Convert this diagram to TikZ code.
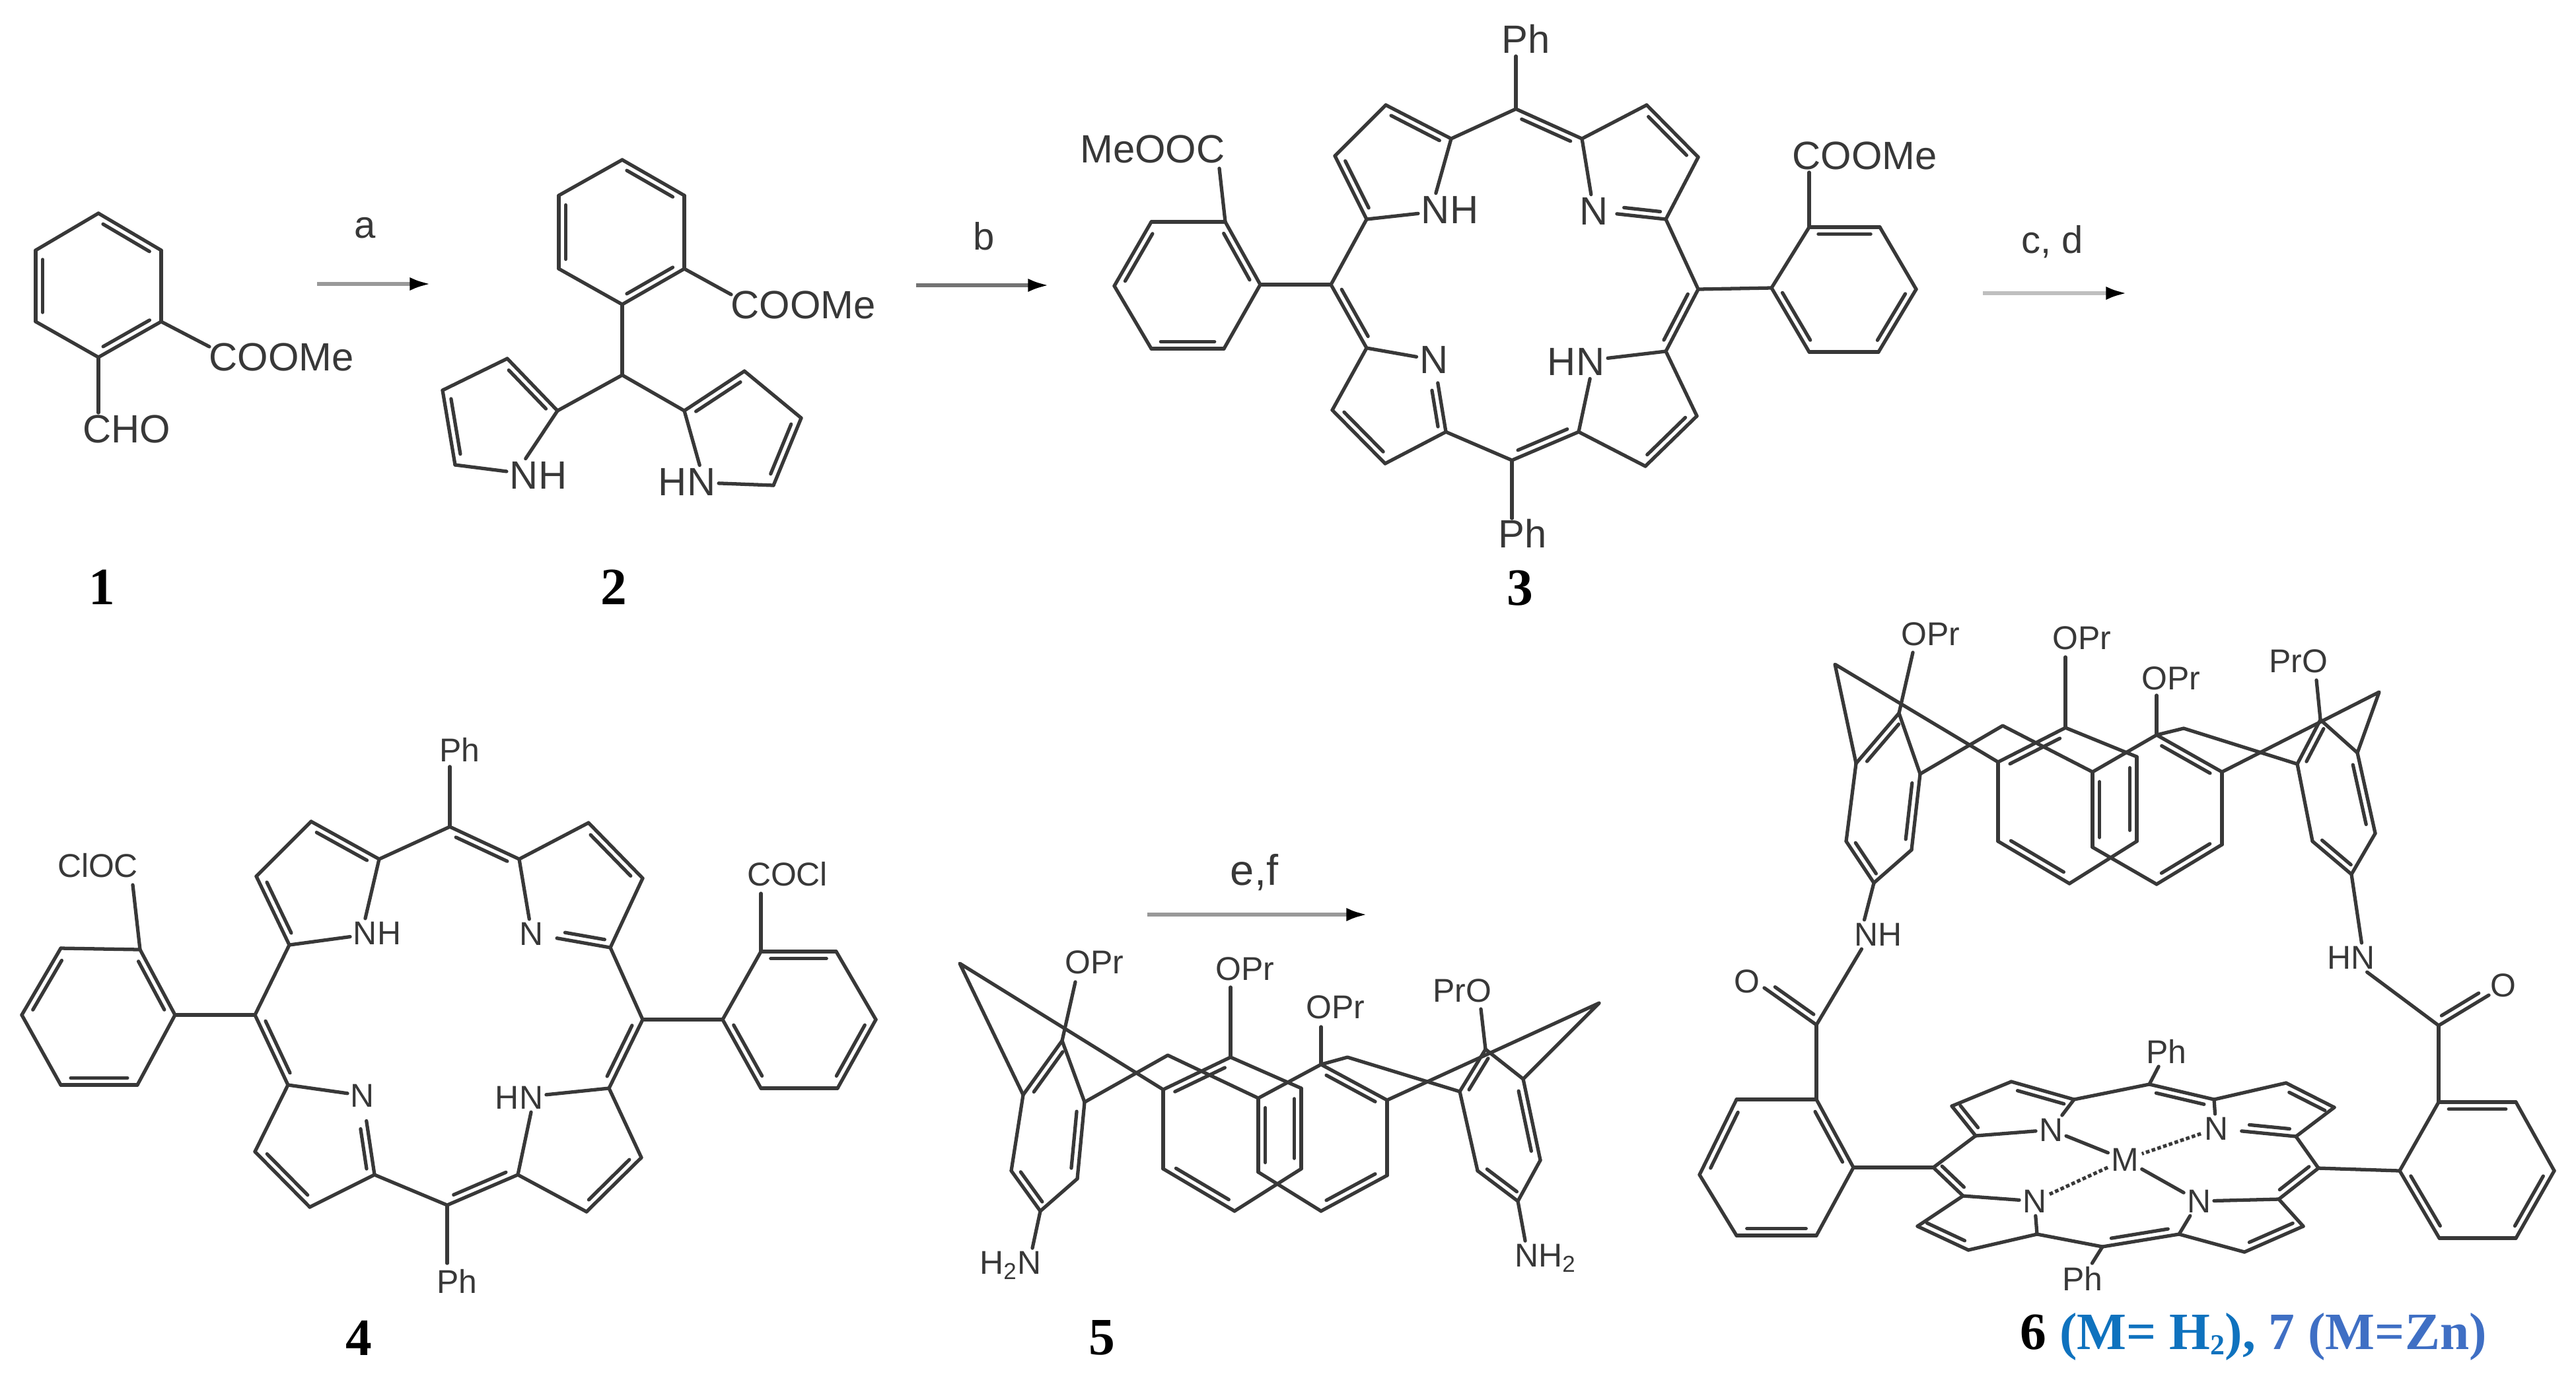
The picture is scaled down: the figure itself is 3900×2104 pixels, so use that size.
\documentclass[tikz,border=0pt]{standalone}
\usepackage{fontspec}
\setmainfont{Liberation Sans}
\newfontfamily\numfont{Liberation Serif}
\usetikzlibrary{calc,arrows.meta}
\definecolor{bondgray}{HTML}{383838}
\definecolor{capblue}{HTML}{0F72BE}
\definecolor{capindigo}{HTML}{3F6FC4}
\tikzset{
	bond/.style={line width=1.5pt, draw=bondgray, line cap=round, line join=round},
	atomL/.style={inner sep=1.2pt, text=bondgray, font=\fontsize{17}{17}\selectfont},
	atomS/.style={inner sep=1.2pt, text=bondgray, font=\fontsize{14.2}{14.2}\selectfont},
	steplabel/.style={inner sep=0pt, anchor=base, text=bondgray, font=\fontsize{16.5}{16.5}\selectfont},
	cmpd/.style={inner sep=0pt, font=\numfont\bfseries\fontsize{22.6}{22.6}\selectfont},
	rxn/.style={line width=1.6pt, draw=black!40, -{Latex[color=black,length=9pt,width=5.8pt]}}
}
\def\dbl#1#2{\draw[bond] (#1) -- (#2); \draw[bond] ($(#1)!.13!(#2)!3pt!90:(#2)$) -- ($(#2)!.13!(#1)!3pt!-90:(#1)$);}
\def\benz#1#2#3#4#5#6{\dbl{#1}{#2} \draw[bond] (#2) -- (#3); \dbl{#3}{#4} \draw[bond] (#4) -- (#5); \dbl{#5}{#6} \draw[bond] (#6) -- (#1);}
\def\porphyrinbonds#1{
	\draw[bond] (#1T) -- (#1a); \dbl{#1a}{#1b} \draw[bond] (#1b) -- (#1c); \dbl{#1c}{#1d} \draw[bond] (#1d) -- (#1L);
	\dbl{#1e}{#1T} \draw[bond] (#1e) -- (#1f); \dbl{#1g}{#1f} \draw[bond] (#1g) -- (#1h); \draw[bond] (#1h) -- (#1R);
	\dbl{#1L}{#1i} \draw[bond] (#1i) -- (#1j); \dbl{#1j}{#1k} \draw[bond] (#1k) -- (#1l); \draw[bond] (#1l) -- (#1B);
	\dbl{#1B}{#1m} \draw[bond] (#1m) -- (#1n); \dbl{#1n}{#1o} \draw[bond] (#1o) -- (#1p); \dbl{#1p}{#1R}
	\draw[bond] (#1d) -- (#1nh); \draw[bond] (#1a) -- ($(#1nh.north west)!.28!(#1nh.north east)$);
	\draw[bond] (#1e) -- (#1nr); \draw[bond] (#1i) -- (#1nl);
	\draw[bond] (#1p) -- (#1hn); \draw[bond] (#1m) -- ($(#1hn.south west)!.72!(#1hn.south east)$);
	\dbl{$(#1nr)!.32!(#1h)$}{#1h}
}
\def\calixbonds#1{
	\benz{#1ua}{#1ub}{#1uc}{#1ud}{#1ue}{#1uf}
	\benz{#1sT}{#1sA}{#1sB}{#1sC}{#1sD}{#1sE}
	\benz{#1tA}{#1tB}{#1tC}{#1tD}{#1tE}{#1tT}
	\benz{#1vT}{#1vA}{#1vB}{#1vC}{#1vD}{#1vE}
	\draw[bond] (#1ub) -- (#1apL) -- (#1sA);
	\draw[bond] (#1uf) -- (#1brL) -- (#1tA);
	\draw[bond] (#1tT) -- (#1brR) -- (#1vA);
	\draw[bond] (#1tE) -- (#1apR) -- (#1vE);
	\draw[bond] (#1ua) -- (#1eA); \draw[bond] (#1sT) -- (#1eB);
	\draw[bond] (#1tT) -- (#1eC); \draw[bond] (#1vT) -- (#1eD);
}

\begin{document}
\begin{tikzpicture}[x=0.1mm, y=-0.1mm]
	\useasboundingbox (0,0) rectangle (3900,2104);
	%%%%% 1 %%%%%
	\coordinate (a1) at (244,379); \coordinate (a2) at (149,323); \coordinate (a3) at (54,379);
	\coordinate (a4) at (54,487); \coordinate (a5) at (149,541); \coordinate (a6) at (244,487);
	\benz{a1}{a2}{a3}{a4}{a5}{a6}
	\node[atomL] (aest) at (426,541) {COOMe};
	\node[atomL] (acho) at (192,650) {CHO};
	\coordinate (aeE) at (317,525); \coordinate (aeC) at (149,625);
	\draw[bond] (a6) -- (aeE);
	\draw[bond] (a5) -- (aeC);
	\node[cmpd] (cmpA) at (154,889) {1};
	
	\coordinate (arA1) at (480,430); \coordinate (arA2) at (652,430);
	\draw[rxn] (arA1) -- (arA2);
	\node[steplabel] (lblA) at (553,360) {a};
	
	%%%%% 2 %%%%%
	\coordinate (b1) at (1036,296); \coordinate (b2) at (942,242); \coordinate (b3) at (846,296);
	\coordinate (b4) at (846,407); \coordinate (b5) at (942,461); \coordinate (b6) at (1036,407);
	\benz{b1}{b2}{b3}{b4}{b5}{b6}
	\node[atomL] (best) at (1216,462) {COOMe};
	\coordinate (beE) at (1107,446); \coordinate (bch) at (942,568);
	\draw[bond] (b6) -- (beE);
	\draw[bond] (b5) -- (bch);
	\coordinate (bl2) at (844,622); \coordinate (bl3) at (768,543); \coordinate (bl4) at (670,591); \coordinate (bl5) at (689,704);
	\coordinate (br2) at (1036,622); \coordinate (br3) at (1127,562); \coordinate (br4) at (1213,633); \coordinate (br5) at (1171,735);
	\node[atomL] (bnh) at (815,720) {NH};
	\node[atomL] (bhn) at (1040,730) {HN};
	\draw[bond] (bl2) -- (bch) -- (br2);
	\dbl{bl2}{bl3} \draw[bond] (bl3) -- (bl4); \dbl{bl4}{bl5} \draw[bond] (bl5) -- (bnh);
	\draw[bond] (bl2) -- ($(bnh.north west)!.3!(bnh.north east)$);
	\dbl{br3}{br2} \draw[bond] (br3) -- (br4); \dbl{br5}{br4} \draw[bond] (br5) -- (bhn);
	\draw[bond] (br2) -- ($(bhn.north west)!.7!(bhn.north east)$);
	\node[cmpd] (cmpB) at (929,889) {2};
	
	\coordinate (arB1) at (1387,432); \coordinate (arB2) at (1588,432);
	\draw[rxn, draw=black!55] (arB1) -- (arB2);
	\node[steplabel] (lblB) at (1490,378) {b};
	
	%%%%% 3 %%%%%
	\coordinate (mT) at (2295,165); \coordinate (mB) at (2289,697); \coordinate (mL) at (2015,431); \coordinate (mR) at (2571,438);
	\coordinate (ma) at (2197,210); \coordinate (mb) at (2098,159); \coordinate (mc) at (2021,236); \coordinate (md) at (2069,332);
	\coordinate (me) at (2395,210); \coordinate (mf) at (2493,159); \coordinate (mg) at (2571,238); \coordinate (mh) at (2522,332);
	\coordinate (mi) at (2069,527); \coordinate (mj) at (2017,621); \coordinate (mk) at (2097,702); \coordinate (ml) at (2189,654);
	\coordinate (mm) at (2390,654); \coordinate (mn) at (2491,706); \coordinate (mo) at (2569,630); \coordinate (mp) at (2522,532);
	\node[atomL] (mnh) at (2195,318) {NH};
	\node[atomL] (mnr) at (2413,320) {N};
	\node[atomL] (mnl) at (2171,545) {N};
	\node[atomL] (mhn) at (2386,548) {HN};
	\porphyrinbonds{m}
	\dbl{ml}{$(mnl)!.32!(ml)$}
	\node[atomL] (mphT) at (2310,59) {Ph};
	\node[atomL] (mphB) at (2305,808) {Ph};
	\coordinate (mpT) at (2295,85); \coordinate (mpB) at (2289,785);
	\draw[bond] (mT) -- (mpT);
	\draw[bond] (mB) -- (mpB);
	\coordinate (mu1) at (1908,431); \coordinate (mu2) at (1855,336); \coordinate (mu3) at (1743,336);
	\coordinate (mu4) at (1687,433); \coordinate (mu5) at (1743,528); \coordinate (mu6) at (1853,528);
	\benz{mu1}{mu2}{mu3}{mu4}{mu5}{mu6}
	\coordinate (mv1) at (2846,344); \coordinate (mv2) at (2739,344); \coordinate (mv3) at (2682,436);
	\coordinate (mv4) at (2739,533); \coordinate (mv5) at (2844,533); \coordinate (mv6) at (2901,438);
	\benz{mv1}{mv2}{mv3}{mv4}{mv5}{mv6}
	\draw[bond] (mL) -- (mu1);
	\draw[bond] (mR) -- (mv3);
	\node[atomL] (mestL) at (1745,226) {MeOOC};
	\node[atomL] (mestR) at (2823,236) {COOMe};
	\coordinate (meL) at (1846,255); \coordinate (meR) at (2739,261);
	\draw[bond] (mu2) -- (meL);
	\draw[bond] (mv2) -- (meR);
	\node[cmpd] (cmpC) at (2301,891) {3};
	
	\coordinate (arC1) at (3002,444); \coordinate (arC2) at (3220,444);
	\draw[rxn, draw=black!25] (arC1) -- (arC2);
	\node[steplabel] (lblC) at (3107,383) {c, d};
	
	%%%%% 4 %%%%%
	\coordinate (cT) at (681,1252); \coordinate (cB) at (677,1825); \coordinate (cL) at (386,1537); \coordinate (cR) at (973,1544);
	\coordinate (ca) at (574,1301); \coordinate (cb) at (471,1244); \coordinate (cc) at (388,1327); \coordinate (cd) at (438,1431);
	\coordinate (ce) at (786,1301); \coordinate (cf) at (891,1246); \coordinate (cg) at (973,1330); \coordinate (ch) at (924,1435);
	\coordinate (ci) at (436,1643); \coordinate (cj) at (386,1744); \coordinate (ck) at (469,1828); \coordinate (cl) at (567,1779);
	\coordinate (cm) at (784,1779); \coordinate (cn) at (888,1835); \coordinate (co) at (971,1753); \coordinate (cp) at (922,1648);
	\node[atomS] (cnh) at (571,1413) {NH};
	\node[atomS] (cnr) at (805,1414) {N};
	\node[atomS] (cnl) at (549,1659) {N};
	\node[atomS] (chn) at (786,1662) {HN};
	\porphyrinbonds{c}
	\dbl{cl}{$(cnl)!.32!(cl)$}
	\node[atomS] (cphT) at (696,1135) {Ph};
	\node[atomS] (cphB) at (692,1940) {Ph};
	\coordinate (cpT) at (681,1161); \coordinate (cpB) at (677,1913);
	\draw[bond] (cT) -- (cpT);
	\draw[bond] (cB) -- (cpB);
	\coordinate (cu1) at (265,1537); \coordinate (cu2) at (212,1438); \coordinate (cu3) at (92,1436);
	\coordinate (cu4) at (33,1537); \coordinate (cu5) at (92,1643); \coordinate (cu6) at (208,1643);
	\benz{cu1}{cu2}{cu3}{cu4}{cu5}{cu6}
	\coordinate (cv1) at (1266,1441); \coordinate (cv2) at (1152,1441); \coordinate (cv3) at (1094,1544);
	\coordinate (cv4) at (1152,1648); \coordinate (cv5) at (1268,1648); \coordinate (cv6) at (1326,1544);
	\benz{cv1}{cv2}{cv3}{cv4}{cv5}{cv6}
	\draw[bond] (cL) -- (cu1);
	\draw[bond] (cR) -- (cv3);
	\node[atomS] (cclL) at (148,1311) {ClOC};
	\node[atomS] (cclR) at (1192,1324) {COCl};
	\coordinate (ceL) at (201,1340); \coordinate (ceR) at (1152,1353);
	\draw[bond] (cu2) -- (ceL);
	\draw[bond] (cv2) -- (ceR);
	\node[cmpd] (cmpD) at (543,2026) {4};
	
	%%%%% 5 %%%%%
	\coordinate (arE1) at (1737,1385); \coordinate (arE2) at (2070,1385);
	\draw[rxn] (arE1) -- (arE2);
	\node[inner sep=0pt, text=bondgray, font=\fontsize{18.5}{18.5}\selectfont] (lblE) at (1899,1321) {e,f};
	
	\coordinate (kapL) at (1453,1459); \coordinate (kapR) at (2421,1519); \coordinate (kbrL) at (1768,1598); \coordinate (kbrR) at (2040,1601);
	\coordinate (kua) at (1608,1576); \coordinate (kub) at (1549,1658); \coordinate (kuc) at (1531,1773);
	\coordinate (kud) at (1575,1834); \coordinate (kue) at (1631,1785); \coordinate (kuf) at (1642,1669);
	\coordinate (ksT) at (1863,1601); \coordinate (ksA) at (1761,1650); \coordinate (ksB) at (1761,1770);
	\coordinate (ksC) at (1869,1834); \coordinate (ksD) at (1970,1770); \coordinate (ksE) at (1970,1648);
	\coordinate (ktT) at (2000,1612); \coordinate (ktA) at (1905,1663); \coordinate (ktB) at (1905,1775);
	\coordinate (ktC) at (2000,1834); \coordinate (ktD) at (2100,1780); \coordinate (ktE) at (2100,1666);
	\coordinate (kvT) at (2249,1589); \coordinate (kvA) at (2210,1653); \coordinate (kvB) at (2237,1773);
	\coordinate (kvC) at (2298,1819); \coordinate (kvD) at (2332,1757); \coordinate (kvE) at (2306,1634);
	\coordinate (keA) at (1628,1487); \coordinate (keB) at (1863,1495); \coordinate (keC) at (2000,1555); \coordinate (keD) at (2242,1528);
	\calixbonds{k}
	\node[atomS] (koA) at (1657,1457) {OPr};
	\node[atomS] (koB) at (1885,1467) {OPr};
	\node[atomS] (koC) at (2022,1525) {OPr};
	\node[atomS] (koD) at (2214,1500) {PrO};
	\node[atomS] (kh2n) at (1530,1916) {H\textsubscript{2}N};
	\node[atomS] (knh2) at (2340,1905) {NH\textsubscript{2}};
	\draw[bond] (kud) -- ($(kh2n.north west)!.82!(kh2n.north east)$);
	\draw[bond] (kvC) -- ($(knh2.north west)!.2!(knh2.north east)$);
	\node[cmpd] (cmpE) at (1668,2026) {5};
	
	%%%%% 6, 7 %%%%%
	\coordinate (qapL) at (2778,1006); \coordinate (qapR) at (3602,1048); \coordinate (qbrL) at (3032,1099); \coordinate (qbrR) at (3306,1103);
	\coordinate (qua) at (2875,1080); \coordinate (qub) at (2810,1156); \coordinate (quc) at (2795,1274);
	\coordinate (qud) at (2837,1337); \coordinate (que) at (2894,1287); \coordinate (quf) at (2907,1172);
	\coordinate (qsT) at (3127,1102); \coordinate (qsA) at (3025,1154); \coordinate (qsB) at (3025,1274);
	\coordinate (qsC) at (3133,1338); \coordinate (qsD) at (3235,1274); \coordinate (qsE) at (3235,1146);
	\coordinate (qtT) at (3265,1113); \coordinate (qtA) at (3168,1169); \coordinate (qtB) at (3168,1283);
	\coordinate (qtC) at (3265,1339); \coordinate (qtD) at (3364,1279); \coordinate (qtE) at (3364,1169);
	\coordinate (qvT) at (3513,1090); \coordinate (qvA) at (3478,1157); \coordinate (qvB) at (3501,1274);
	\coordinate (qvC) at (3560,1324); \coordinate (qvD) at (3596,1262); \coordinate (qvE) at (3569,1140);
	\coordinate (qeA) at (2896,988); \coordinate (qeB) at (3127,995); \coordinate (qeC) at (3265,1053); \coordinate (qeD) at (3507,1030);
	\calixbonds{q}
	\node[atomS] (qoA) at (2923,960) {OPr};
	\node[atomS] (qoB) at (3152,966) {OPr};
	\node[atomS] (qoC) at (3287,1027) {OPr};
	\node[atomS] (qoD) at (3480,1001) {PrO};
	\node[atomS] (qnh) at (2843,1415) {NH};
	\node[atomS] (qhn) at (3559,1450) {HN};
	\draw[bond] (qud) -- ($(qnh.north west)!.25!(qnh.north east)$);
	\draw[bond] (qvC) -- ($(qhn.north west)!.7!(qhn.north east)$);
	\coordinate (qcL) at (2750,1552); \coordinate (qcR) at (3692,1553);
	\coordinate (qoeL) at (2671,1496); \coordinate (qoeR) at (3768,1507);
	\node[atomS] (qOL) at (2645,1486) {O};
	\node[atomS] (qOR) at (3790,1492) {O};
	\draw[bond] (qcL) -- ($(qnh.south west)!.2!(qnh.south east)$);
	\draw[bond] (qcR) -- ($(qhn.south west)!.8!(qhn.south east)$);
	\dbl{qoeL}{qcL}
	\dbl{qcR}{qoeR}
	
	\coordinate (qT) at (3254,1642); \coordinate (qB) at (3183,1888); \coordinate (qL) at (2927,1768); \coordinate (qR) at (3510,1769);
	\coordinate (qa) at (3140,1665); \coordinate (qb) at (3045,1638); \coordinate (qc) at (2955,1675); \coordinate (qd) at (2991,1720);
	\coordinate (qe) at (3352,1665); \coordinate (qf) at (3461,1640); \coordinate (qg) at (3534,1677); \coordinate (qh) at (3476,1721);
	\coordinate (qi) at (2972,1811); \coordinate (qj) at (2903,1857); \coordinate (qk) at (2980,1893); \coordinate (ql) at (3084,1869);
	\coordinate (qm) at (3299,1869); \coordinate (qn) at (3398,1896); \coordinate (qo) at (3487,1857); \coordinate (qp) at (3450,1816);
	\node[atomS] (qnh2) at (3105,1711) {N};
	\node[atomS] (qnr) at (3355,1709) {N};
	\node[atomS] (qnl) at (3080,1819) {N};
	\node[atomS] (qhn2) at (3329,1819) {N};
	\node[atomS] (qM) at (3217,1756) {M};
	\draw[bond] (qT) -- (qa); \dbl{qa}{qb} \draw[bond] (qb) -- (qc); \dbl{qc}{qd} \draw[bond] (qd) -- (qL);
	\dbl{qe}{qT} \draw[bond] (qe) -- (qf); \dbl{qg}{qf} \draw[bond] (qg) -- (qh); \draw[bond] (qh) -- (qR);
	\dbl{qL}{qi} \draw[bond] (qi) -- (qj); \dbl{qj}{qk} \draw[bond] (qk) -- (ql); \draw[bond] (ql) -- (qB);
	\dbl{qB}{qm} \draw[bond] (qm) -- (qn); \dbl{qn}{qo} \draw[bond] (qo) -- (qp); \dbl{qp}{qR}
	\draw[bond] (qd) -- (qnh2); \draw[bond] (qa) -- (qnh2);
	\draw[bond] (qe) -- (qnr); \dbl{$(qnr)!.32!(qh)$}{qh}
	\draw[bond] (qi) -- (qnl); \draw[bond] (ql) -- (qnl);
	\draw[bond] (qp) -- (qhn2); \draw[bond] (qm) -- (qhn2);
	\draw[bond] (qnh2) -- (qM);
	\draw[bond] (qM) -- (qhn2);
	\draw[bond, dash pattern=on 1.6pt off 1pt, line cap=butt] (qnr) -- (qM);
	\draw[bond, dash pattern=on 1.6pt off 1pt, line cap=butt] (qnl) -- (qM);
	\node[atomS] (qphT) at (3280,1592) {Ph};
	\node[atomS] (qphB) at (3153,1936) {Ph};
	\draw[bond] (qT) -- (qphT);
	\draw[bond] (qB) -- (qphB);
	\coordinate (qx1) at (2806,1768); \coordinate (qx2) at (2750,1665); \coordinate (qx3) at (2629,1665);
	\coordinate (qx4) at (2573,1779); \coordinate (qx5) at (2629,1871); \coordinate (qx6) at (2750,1871);
	\benz{qx1}{qx2}{qx3}{qx4}{qx5}{qx6}
	\coordinate (qy1) at (3809,1669); \coordinate (qy2) at (3692,1669); \coordinate (qy3) at (3633,1773);
	\coordinate (qy4) at (3693,1875); \coordinate (qy5) at (3809,1875); \coordinate (qy6) at (3867,1773);
	\benz{qy1}{qy2}{qy3}{qy4}{qy5}{qy6}
	\draw[bond] (qL) -- (qx1);
	\draw[bond] (qR) -- (qy3);
	\draw[bond] (qcL) -- (qx2);
	\draw[bond] (qcR) -- (qy2);
	\node[cmpd, anchor=west] (cmpF) at (3058,2024) {6 \textcolor{capblue}{(M= H\raisebox{-0.1em}{\fontsize{12.5}{12.5}\selectfont 2}),} \textcolor{capindigo}{7 (M=Zn)}};
\end{tikzpicture}
\end{document}
